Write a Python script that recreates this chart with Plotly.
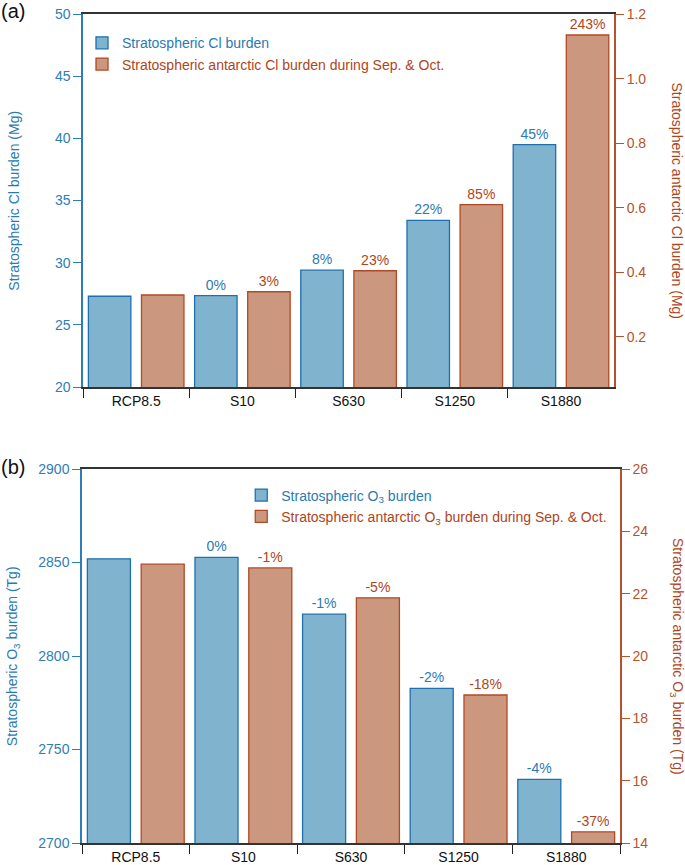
import plotly.graph_objects as go

# scenario names and burdens
scenarios = ['RCP8.5', 'S10', 'S630', 'S1250', 'S1880']

cl_strat = [27.3, 27.35, 29.4, 33.4, 39.5]          # Mg, left axis (a)
cl_antarctic = [0.33, 0.34, 0.405, 0.61, 1.135]     # Mg, right axis (a)
cl_strat_pct = ['', '0%', '8%', '22%', '45%']
cl_antarctic_pct = ['', '3%', '23%', '85%', '243%']

o3_strat = [2852, 2852.8, 2822.4, 2782.7, 2734]      # Tg, left axis (b)
o3_antarctic = [22.95, 22.83, 21.87, 18.75, 14.36]   # Tg, right axis (b)
o3_strat_pct = ['', '0%', '-1%', '-2%', '-4%']
o3_antarctic_pct = ['', '-1%', '-5%', '-18%', '-37%']

BLUE_FILL, BLUE_LINE, BLUE_TXT = '#80B4CE', '#1F6FAE', '#2A7AB3'
BROWN_FILL, BROWN_LINE, BROWN_TXT = '#CB977E', '#B14A24', '#AF4520'
FONT = 'Arial, Liberation Sans, sans-serif'
FS = 14

fig = go.Figure()


def add_bars(y, txt, name, xa, ya, fill, line, tcol, offset, legend):
    fig.add_trace(go.Bar(
        x=scenarios, y=y, text=txt, name=name,
        xaxis=xa, yaxis=ya, legend=legend,
        width=0.4, offset=offset,
        marker=dict(color=fill, line=dict(color=line, width=1.3)),
        textposition='outside', cliponaxis=False,
        textfont=dict(color=tcol, size=FS, family=FONT),
    ))


add_bars(cl_strat, cl_strat_pct,
         '<span style="color:%s">Stratospheric Cl burden</span>' % BLUE_TXT,
         'x', 'y', BLUE_FILL, BLUE_LINE, BLUE_TXT, -0.45, 'legend')
add_bars(cl_antarctic, cl_antarctic_pct,
         '<span style="color:%s">Stratospheric antarctic Cl burden during Sep. &amp; Oct.</span>' % BROWN_TXT,
         'x', 'y2', BROWN_FILL, BROWN_LINE, BROWN_TXT, 0.05, 'legend')
add_bars(o3_strat, o3_strat_pct,
         '<span style="color:%s">Stratospheric O<sub>3</sub> burden</span>' % BLUE_TXT,
         'x2', 'y3', BLUE_FILL, BLUE_LINE, BLUE_TXT, -0.45, 'legend2')
add_bars(o3_antarctic, o3_antarctic_pct,
         '<span style="color:%s">Stratospheric antarctic O<sub>3</sub> burden during Sep. &amp; Oct.</span>' % BROWN_TXT,
         'x2', 'y4', BROWN_FILL, BROWN_LINE, BROWN_TXT, 0.05, 'legend2')

xcommon = dict(type='category', range=[-0.5, 4.5], tickson='boundaries',
               ticks='outside', ticklen=9, tickcolor='#222', tickwidth=1.2,
               showline=True, linecolor='#333', linewidth=1.5, mirror=True,
               showgrid=False, tickfont=dict(size=FS, color='#111', family=FONT))


def yax(col, rng, **kw):
    d = dict(range=rng, showgrid=False, zeroline=False, showline=True,
             linecolor=col, linewidth=1.5, ticks='outside', ticklen=8,
             tickcolor=col, tickwidth=1.2, automargin=False,
             tickfont=dict(size=FS, color=col, family=FONT))
    d.update(kw)
    return d


fig.update_layout(
    width=685, height=865,
    margin=dict(l=82, r=65, t=14, b=22, autoexpand=False),
    plot_bgcolor='white', paper_bgcolor='white',
    barmode='overlay', showlegend=True,
    font=dict(family=FONT, size=FS),
    xaxis=dict(xcommon, domain=[0.002, 0.989], anchor='y'),
    xaxis2=dict(xcommon, domain=[0, 1], anchor='y3'),
    yaxis=yax('#2E7DB6', [20, 50], dtick=5, domain=[0.55, 1], anchor='x'),
    yaxis2=yax('#B5532D', [0.045, 1.2], tickvals=[0.2, 0.4, 0.6, 0.8, 1.0, 1.2],
               tickformat='.1f', overlaying='y', side='right', anchor='x'),
    yaxis3=yax('#2E7DB6', [2700, 2900], dtick=50, domain=[0, 0.451], anchor='x2'),
    yaxis4=yax('#B5532D', [14, 26], dtick=2, overlaying='y3', side='right',
               anchor='x2'),
    legend=dict(x=0.0, y=0.984, xanchor='left', yanchor='top',
                bgcolor='rgba(0,0,0,0)', tracegroupgap=0,
                font=dict(size=FS, family=FONT)),
    legend2=dict(x=0.296, y=0.4385, xanchor='left', yanchor='top',
                 bgcolor='rgba(0,0,0,0)', tracegroupgap=0,
                 font=dict(size=FS, family=FONT)),
)

# axis titles and panel letters
ann = [
    dict(text='Stratospheric Cl burden (Mg)', x=-0.128, y=0.775, textangle=-90,
         font=dict(color=BLUE_TXT, size=FS)),
    dict(text='Stratospheric antarctic Cl burden (Mg)', x=1.106, y=0.775,
         textangle=90, font=dict(color=BROWN_TXT, size=FS)),
    dict(text='Stratospheric O<sub>3</sub> burden (Tg)', x=-0.128, y=0.2255,
         textangle=-90, font=dict(color=BLUE_TXT, size=FS)),
    dict(text='Stratospheric antarctic O<sub>3</sub> burden (Tg)', x=1.106,
         y=0.2255, textangle=90, font=dict(color=BROWN_TXT, size=FS)),
    dict(text='(a)', x=-0.128, y=1.004, font=dict(color='#111', size=20)),
    dict(text='(b)', x=-0.128, y=0.4535, font=dict(color='#111', size=20)),
]
for a in ann:
    fig.add_annotation(xref='paper', yref='paper', showarrow=False,
                       xanchor='center', yanchor='middle', **a)

fig.write_html("out.html", config={'displayModeBar': False},
               post_script="document.body.style.margin='0px';")
